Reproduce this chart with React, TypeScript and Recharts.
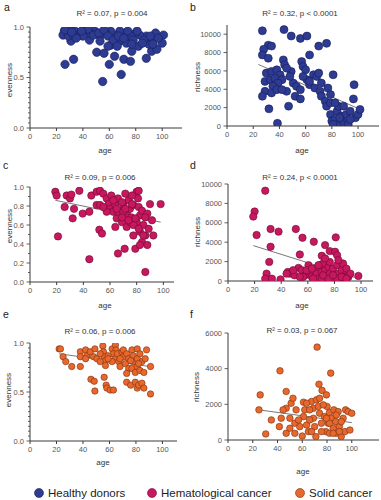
import React from 'react';
import { ScatterChart, Scatter, XAxis, YAxis } from 'recharts';

type Pt = [number, number];

// ---------- tick labels ----------
const ageTicks = [0, 20, 40, 60, 80, 100];
const evennessTicksHalf = [0, 0.5, 1];
const evennessTicksFifth = [0, 0.2, 0.4, 0.6, 0.8, 1];
const richnessTicks10k = [0, 2000, 4000, 6000, 8000, 10000];
const richnessTicks6k = [0, 2000, 4000, 6000];

// ---------- panel titles ----------
const statsA = 'R² = 0.07, p = 0.004';
const statsB = 'R² = 0.32, p < 0.0001';
const statsC = 'R² = 0.09, p = 0.006';
const statsD = 'R² = 0.24, p < 0.0001';
const statsE = 'R² = 0.06, p = 0.006';
const statsF = 'R² = 0.03, p = 0.067';

const groups = ['Healthy donors', 'Hematological cancer', 'Solid cancer'];

// ---------- data: [age, value] ----------
const healthyEvenness: Pt[] = [
  [26.5, 0.63], [33, 0.68], [31, 0.86], [50.5, 0.75], [56, 0.74], [60, 0.63], [55, 0.46], [64, 0.71], [61, 0.82], [68, 0.86],
  [71, 0.68], [69, 0.53], [76, 0.66], [77, 0.76], [88, 0.69], [92, 0.76], [96, 0.78], [45, 0.87], [73, 0.84], [82, 0.81],
  [90, 0.83], [93, 0.87], [100, 0.84], [101, 0.92], [95, 0.94], [88, 0.91], [83, 0.92], [80, 0.94], [76, 0.91], [72, 0.94],
  [68, 0.96], [64, 0.92], [61, 0.96], [57, 0.94], [53, 0.91], [49, 0.96], [45, 0.94], [42, 0.97], [38, 0.92], [34, 0.96],
  [30, 0.97], [28, 0.94], [26, 0.96], [25, 0.92], [29, 0.91], [33, 0.92], [40, 0.91], [44, 0.98], [48, 0.92], [52, 0.94],
  [56, 0.97], [59, 0.91], [63, 0.87], [67, 0.91], [71, 0.89], [74, 0.96], [78, 0.87], [81, 0.96], [86, 0.87], [91, 0.91],
  [97, 0.89], [35, 0.89], [39, 0.96], [26.5, 0.97], [31.5, 0.95], [53, 0.86], [59, 0.81], [66, 0.81], [77, 0.83], [85, 0.84],
  [93, 0.83],
];

const healthyRichness: Pt[] = [
  [27, 10370], [43.5, 10500], [49, 9800], [56, 9540], [61, 9800], [70, 8700], [76, 9000], [31.5, 8800], [34, 8700], [28, 8350],
  [27, 7740], [31.5, 7380], [63, 7740], [43, 7200], [44, 6660], [57, 7020], [58, 6480], [60, 6120], [49, 5940], [30, 5760],
  [34, 5940], [38, 6120], [40.5, 5580], [45.5, 6300], [29, 4860], [33, 5040], [36.5, 5220], [42, 5040], [39, 4680], [35, 4320],
  [29, 3780], [27, 3240], [34, 3600], [38, 3960], [45.5, 3780], [50.5, 4680], [53, 4320], [56, 3960], [52, 3240], [56, 2950],
  [47, 2160], [32, 1870], [38.5, 290], [61, 5040], [63, 4500], [66, 5580], [68.5, 5400], [70, 5760], [67, 4140], [71, 3780],
  [72, 3240], [75, 2700], [77, 4140], [79, 3420], [81, 5580], [76, 2160], [79, 1260], [80, 540], [82.5, 720], [84, 1620],
  [85, 2160], [87.5, 1080], [89, 2160], [90, 360], [91, 1260], [94, 1620], [96.5, 2950], [97, 4500], [98, 900], [100, 1260],
  [101.5, 1800], [87.5, 180], [84, 70], [81, 180], [86, 900], [92.5, 180], [48, 5400], [58, 5400], [63, 4860], [42, 3960],
  [72, 4680], [79, 2520], [82.5, 2520], [94, 720],
];

const hematoEvenness: Pt[] = [
  [19, 0.95], [20, 0.91], [21, 0.48], [26, 0.79], [27.5, 0.91], [30, 0.88], [31, 0.92], [33, 0.77], [32, 0.67], [37, 0.96],
  [39.5, 0.72], [44.5, 0.74], [44.5, 0.24], [46, 0.91], [50, 0.95], [52.5, 0.96], [55, 0.93], [50, 0.81], [52.5, 0.81], [52, 0.55],
  [54, 0.51], [57.5, 0.88], [59, 0.82], [60, 0.77], [61, 0.91], [62.5, 0.74], [64, 0.81], [64, 0.58], [66, 0.3], [65, 0.67],
  [66, 0.88], [67.5, 0.75], [69, 0.63], [70, 0.82], [71, 0.35], [72.5, 0.58], [72.5, 0.72], [74, 0.86], [75, 0.77], [76, 0.68],
  [77.5, 0.49], [77.5, 0.81], [79, 0.35], [80, 0.95], [81, 0.88], [81.5, 0.79], [80, 0.63], [82.5, 0.7], [82.5, 0.53], [84, 0.42],
  [84, 0.75], [85, 0.6], [86.5, 0.105], [86.5, 0.49], [88, 0.39], [88, 0.72], [89, 0.56], [90, 0.82], [91.5, 0.65], [92.5, 0.49],
  [98, 0.82], [71.5, 0.93], [76.5, 0.91], [81.5, 0.96], [57.5, 0.74], [62.5, 0.86], [66, 0.74], [69, 0.84], [70, 0.74], [75, 0.63],
  [77.5, 0.6], [81.5, 0.56], [85, 0.49], [82.5, 0.39], [86.5, 0.68], [65, 0.77], [69, 0.68], [74, 0.65], [55, 0.79], [71.5, 0.77],
  [76.5, 0.82], [79, 0.67],
];

const hematoRichness: Pt[] = [
  [28, 9310], [20, 7160], [19, 6640], [21.5, 4740], [32, 5360], [38, 5090], [32, 3530], [31, 1970], [29, 760], [28, 240],
  [33, 240], [39.5, 170], [51, 5360], [56, 4460], [64.5, 4050], [54, 2730], [73, 3700], [81, 4500], [76.5, 3080], [80.5, 3010],
  [82, 2660], [70.5, 2600], [45, 930], [46.5, 760], [50, 590], [53, 1350], [55.5, 1110], [58, 590], [60.5, 1630], [61.5, 930],
  [63, 415], [65.5, 1280], [66.5, 760], [68, 240], [69, 1630], [70.5, 930], [71.5, 1800], [73, 1110], [74, 415], [75.5, 1450],
  [76.5, 760], [78, 240], [79, 1280], [80.5, 590], [82, 1630], [83, 760], [84, 240], [85.5, 1110], [86.5, 1800], [88, 590],
  [89, 1280], [90.5, 415], [98, 520], [56.5, 415], [54, 415], [64, 240], [59, 1110], [70.5, 240], [75.5, 240], [82, 240],
  [86.5, 415], [92, 760], [63, 1280], [68, 1630], [76.5, 1970], [73, 2320], [83, 2150], [49, 1110], [44, 760], [71.5, 590],
  [79, 590], [85.5, 415], [89, 240],
];

const solidEvenness: Pt[] = [
  [22, 0.94], [23, 0.94], [25, 0.86], [27, 0.81], [31.5, 0.76], [38, 0.76], [38, 0.91], [38, 0.86], [42, 0.93], [43, 0.87],
  [45.5, 0.91], [49, 0.94], [48, 0.86], [42, 0.84], [50.5, 0.84], [46, 0.63], [48.5, 0.61], [49, 0.51], [55, 0.97], [55.5, 0.91],
  [56, 0.86], [57, 0.82], [57, 0.77], [56, 0.65], [57.5, 0.57], [58, 0.54], [60.5, 0.52], [63, 0.52], [62, 0.94], [64.5, 0.98],
  [65, 0.93], [63, 0.89], [64.5, 0.84], [67, 0.81], [66, 0.89], [62, 0.81], [69.5, 0.91], [70.5, 0.86], [72, 0.79], [70.5, 0.93],
  [73, 0.89], [74.5, 0.84], [74.5, 0.74], [73, 0.69], [73, 0.6], [76, 0.57], [77, 0.93], [78, 0.87], [78, 0.81], [77, 0.74],
  [79.5, 0.7], [81, 0.94], [81, 0.84], [81, 0.76], [79.5, 0.6], [81, 0.54], [82, 0.57], [83, 0.72], [83, 0.89], [84.5, 0.81],
  [84.5, 0.59], [86, 0.54], [86, 0.7], [87, 0.84], [88, 0.93], [91, 0.76], [91, 0.48], [53, 0.89], [53, 0.81], [59, 0.87],
  [59, 0.84], [68, 0.84], [76, 0.82], [82, 0.79], [68, 0.76],
];

const solidRichness: Pt[] = [
  [25, 1690], [26, 2530], [30.5, 340], [35, 1125], [42, 3880], [41.5, 750], [43, 1220], [47, 2720], [47, 1780], [47, 375],
  [50, 660], [51, 2060], [52.5, 2340], [54, 940], [54, 375], [55, 1690], [60, 225], [61, 2120], [61, 1310], [62, 1690],
  [63.5, 840], [65, 470], [67.5, 2160], [69, 1780], [69, 1220], [70, 750], [71, 190], [71.5, 2250], [72, 5210], [73.5, 3130],
  [74, 1500], [74, 2340], [75.5, 940], [76, 2780], [78, 1310], [79, 470], [79.5, 2530], [80, 1880], [81, 940], [82, 1540],
  [83, 3750], [82, 375], [83.5, 1220], [85, 660], [85.5, 1690], [87, 1030], [87.5, 375], [89, 1590], [90, 750], [91.5, 190],
  [93, 1220], [94.5, 470], [95, 1690], [97, 1590], [100, 1500], [98.5, 560], [63.5, 2060], [66, 1125], [73, 1880], [77, 1970],
  [82, 940], [87.5, 1400], [91.5, 1030], [58, 750], [57, 1125], [67.5, 470], [75.5, 470], [85, 375], [90, 470], [50, 1220],
  [44.5, 1690], [66, 1690], [79.5, 1220],
];

// regression lines (endpoints)
const fitHealthyRichness: Pt[] = [[24, 6700], [101, 1850]];
const fitHematoEvenness: Pt[] = [[19, 0.86], [98, 0.63]];
const fitHematoRichness: Pt[] = [[19, 3650], [98, 250]];
const fitSolidEvenness: Pt[] = [[22, 0.89], [93, 0.755]];
const fitSolidRichness: Pt[] = [[25, 1690], [100, 975]];

// ---------- styling ----------
const FONT = '"Liberation Sans", Arial, Helvetica, sans-serif';
const AXIS = '#3a3a3a';
const TICK_TEXT = '#555';
const TEXT = '#333';
const COLORS = [
  { fill: '#2E3B93', stroke: '#161C55' },
  { fill: '#C7175F', stroke: '#6E0A30' },
  { fill: '#E8672C', stroke: '#7A300E' },
];

const ML = 32, MR = 3, MT = 3, MB = 16;

interface PanelProps {
  x0: number; y0: number; w: number; h: number;
  xMax: number; yMax: number;
  yTicks: number[]; yMinor?: number; digits: number;
  data: Pt[]; fit?: Pt[];
  color: { fill: string; stroke: string }; r: number;
}

const makeYTick = (majors: number[], digits: number) => (props: any) => {
  const { x, y, payload } = props;
  const v = payload.value as number;
  const major = majors.some((m) => Math.abs(m - v) < 1e-6);
  const ax = x + 6;
  return (
    <g>
      <line x1={ax} x2={ax - (major ? 3.5 : 2)} y1={y} y2={y} stroke={AXIS} strokeWidth={0.8} />
      {major && (
        <text x={x} y={y} dy="0.35em" textAnchor="end" fontSize={7.5} fill={TICK_TEXT} fontFamily={FONT}>
          {v.toFixed(digits)}
        </text>
      )}
    </g>
  );
};

function Panel(p: PanelProps) {
  let yAll = p.yTicks;
  if (p.yMinor) {
    yAll = [];
    const n = Math.round(p.yMax / p.yMinor);
    for (let i = 0; i <= n; i++) yAll.push(Math.round(i * p.yMinor * 1000) / 1000);
  }
  const pts = p.data.map(([x, y]) => ({ x, y }));
  const fitPts = p.fit ? p.fit.map(([x, y]) => ({ x, y })) : null;
  const c = p.color;
  return (
    <div style={{ position: 'absolute', left: p.x0 - ML, top: p.y0 - MT }}>
      <ScatterChart width={ML + p.w + MR} height={MT + p.h + MB} margin={{ top: MT, right: MR, bottom: 0, left: 0 }}>
        <XAxis
          type="number" dataKey="x" domain={[0, p.xMax]} ticks={ageTicks} interval={0}
          tickSize={3} tickMargin={3} height={MB} stroke={AXIS} allowDataOverflow
          tick={{ fontSize: 7.5, fill: TICK_TEXT, fontFamily: FONT }}
        />
        <YAxis
          type="number" dataKey="y" domain={[0, p.yMax]} ticks={yAll} interval={0} width={ML}
          tickLine={false} tickSize={3} tickMargin={3} axisLine={{ stroke: AXIS }} allowDataOverflow
          tick={makeYTick(p.yTicks, p.digits)}
        />
        {fitPts && (
          <Scatter
            data={fitPts} line={{ stroke: '#555', strokeWidth: 0.8 }} shape={() => <g />}
            isAnimationActive={false}
          />
        )}
        <Scatter
          data={pts}
          isAnimationActive={false}
          shape={(s: any) => (
            <circle cx={s.cx} cy={s.cy} r={p.r} fill={c.fill} stroke={c.stroke} strokeWidth={0.6} />
          )}
        />
      </ScatterChart>
    </div>
  );
}

export default function App() {
  const title = (x: number, y: number, t: string) => (
    <text x={x} y={y} textAnchor="middle" fontSize={8} fill={TEXT}>{t}</text>
  );
  const letter = (x: number, y: number, t: string) => (
    <text x={x} y={y} fontSize={10.5} fill="#222">{t}</text>
  );
  const ylab = (x: number, y: number, t: string) => (
    <text x={x} y={y} transform={`rotate(-90 ${x} ${y})`} textAnchor="middle" dy="0.35em" fontSize={8} fill={TEXT}>{t}</text>
  );
  const xlab = (x: number, y: number) => (
    <text x={x} y={y} textAnchor="middle" fontSize={8} fill={TEXT}>age</text>
  );
  return (
    <div style={{ position: 'absolute', left: 0, top: 0, width: 381, height: 500, background: '#fff', overflow: 'hidden', fontFamily: FONT }}>
      <Panel x0={30} y0={27} w={152} h={101} xMax={115} yMax={1} yTicks={evennessTicksHalf} yMinor={0.05} digits={1}
        data={healthyEvenness} color={COLORS[0]} r={4.2} />
      <Panel x0={227} y0={25} w={152} h={101} xMax={116} yMax={11000} yTicks={richnessTicks10k} digits={0}
        data={healthyRichness} fit={fitHealthyRichness} color={COLORS[0]} r={4} />
      <Panel x0={30} y0={187} w={144} h={95} xMax={108} yMax={1} yTicks={evennessTicksFifth} yMinor={0.1} digits={1}
        data={hematoEvenness} fit={fitHematoEvenness} color={COLORS[1]} r={3.7} />
      <Panel x0={228} y0={184} w={145} h={97} xMax={109} yMax={10000} yTicks={richnessTicks10k} digits={0}
        data={hematoRichness} fit={fitHematoRichness} color={COLORS[1]} r={3.7} />
      <Panel x0={30} y0={343} w={147} h={98} xMax={111} yMax={1} yTicks={evennessTicksHalf} yMinor={0.05} digits={1}
        data={solidEvenness} fit={fitSolidEvenness} color={COLORS[2]} r={3.2} />
      <Panel x0={228} y0={333} w={151} h={107} xMax={122} yMax={6000} yTicks={richnessTicks6k} digits={0}
        data={solidRichness} fit={fitSolidRichness} color={COLORS[2]} r={3.3} />

      <svg width={381} height={500} style={{ position: 'absolute', left: 0, top: 0, pointerEvents: 'none' }} fontFamily={FONT}>
        {letter(4, 11, 'a')}
        {letter(190, 11, 'b')}
        {letter(3, 169, 'c')}
        {letter(190, 169, 'd')}
        {letter(3, 318, 'e')}
        {letter(190, 318, 'f')}

        {title(112, 16, statsA)}
        {title(300, 16, statsB)}
        {title(100, 180, statsC)}
        {title(300, 180, statsD)}
        {title(100, 334, statsE)}
        {title(302, 333, statsF)}

        {ylab(9, 80, 'evenness')}
        {ylab(197, 77, 'richness')}
        {ylab(9, 226, 'evenness')}
        {ylab(197, 232, 'richness')}
        {ylab(8, 390, 'evenness')}
        {ylab(196, 387, 'richness')}

        {xlab(105, 153)}
        {xlab(302, 153)}
        {xlab(105, 308)}
        {xlab(302, 308)}
        {xlab(103, 465)}
        {xlab(303, 474)}

        {[39, 152, 300].map((cx, i) => (
          <g key={i}>
            <circle cx={cx} cy={493} r={4.5} fill={COLORS[i].fill} stroke={COLORS[i].stroke} strokeWidth={0.6} />
            <text x={cx + 9} y={497} fontSize={11.5} fill="#222">{groups[i]}</text>
          </g>
        ))}
      </svg>
    </div>
  );
}
